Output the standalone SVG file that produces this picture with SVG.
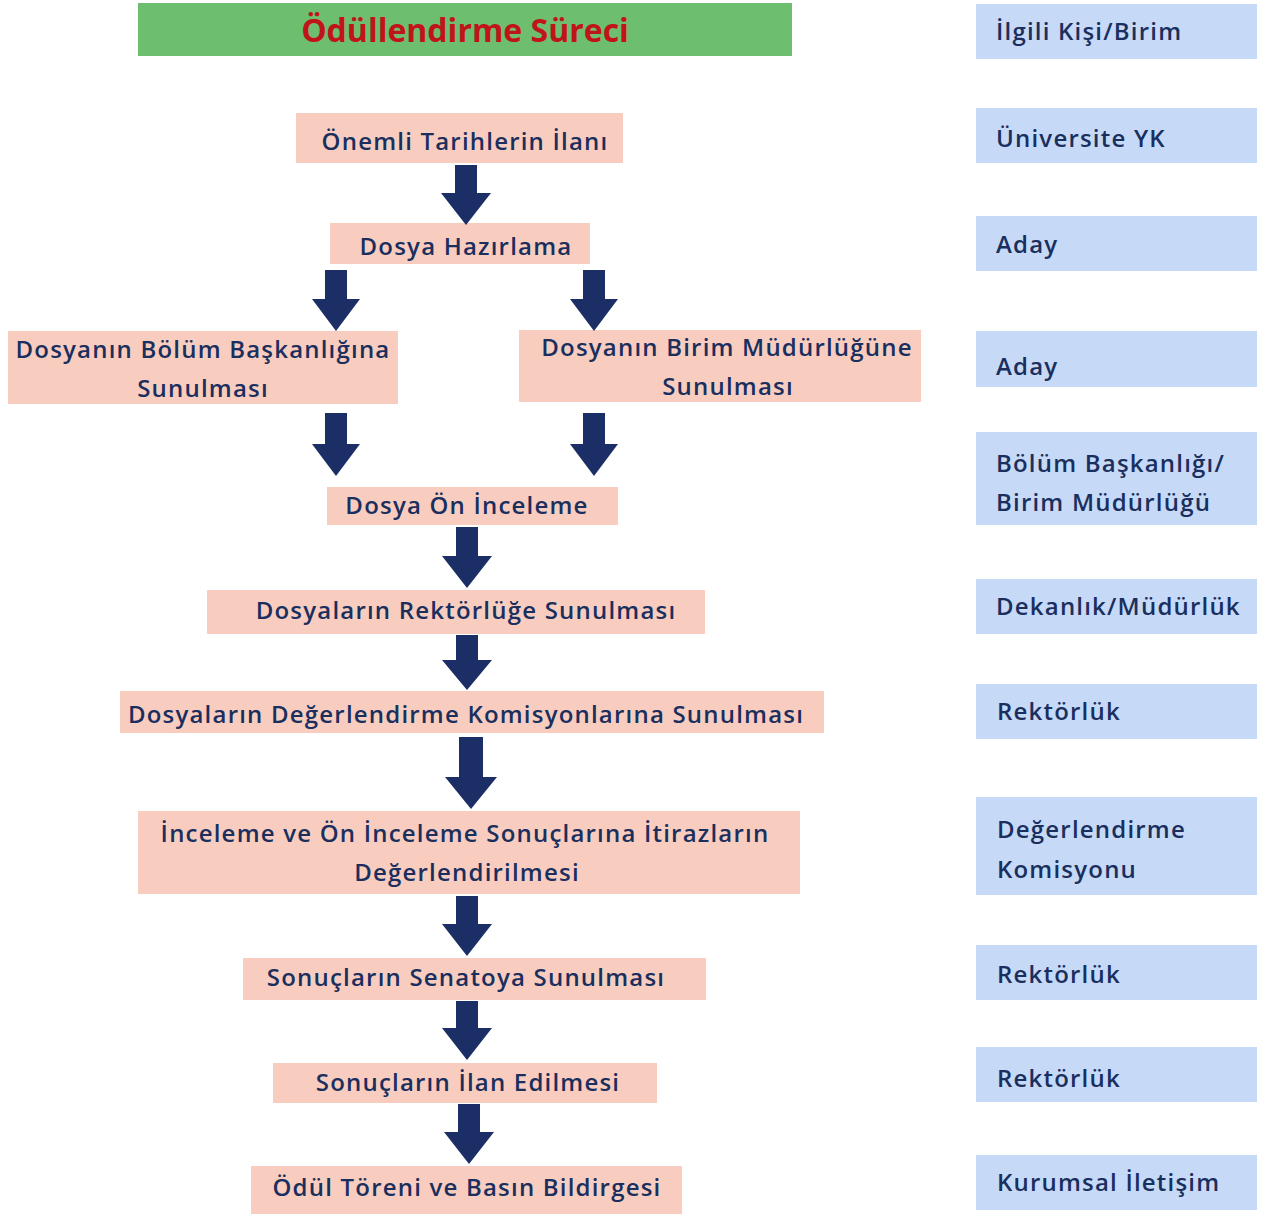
<svg xmlns="http://www.w3.org/2000/svg" width="1267" height="1214" viewBox="0 0 1267 1214">
<style>
.step rect{fill:#F8CDBF}
.role rect{fill:#C6DAF7}
text{font-family:"Open Sans","Liberation Sans",sans-serif;font-weight:600;fill:#1A2F5E;font-size:24px;letter-spacing:1.2px}
.step text{text-anchor:middle}
.arrow{fill:#1B2F66}
.title text{fill:#C0141A;font-size:32px;font-weight:700;text-anchor:middle;letter-spacing:0}
</style>
<rect width="1267" height="1214" fill="#ffffff"/>
<g id="title" class="title">
<rect x="138" y="3" width="654" height="53" fill="#6DBE6E"/>
<text x="465" y="42">Ödüllendirme Süreci</text>
</g>
<g id="s1" class="step"><rect x="296" y="113" width="327" height="50"/><text x="465" y="150">Önemli Tarihlerin İlanı</text></g>
<g id="s2" class="step"><rect x="330" y="223" width="260" height="41"/><text x="466" y="255">Dosya Hazırlama</text></g>
<g id="s3a" class="step"><rect x="8" y="331" width="390" height="73"/><text x="203" y="358">Dosyanın Bölüm Başkanlığına</text><text x="203" y="397">Sunulması</text></g>
<g id="s3b" class="step"><rect x="519" y="330" width="402" height="72"/><text x="727" y="356">Dosyanın Birim Müdürlüğüne</text><text x="728" y="395">Sunulması</text></g>
<g id="s4" class="step"><rect x="327" y="487" width="291" height="38"/><text x="467" y="514">Dosya Ön İnceleme</text></g>
<g id="s5" class="step"><rect x="207" y="590" width="498" height="44"/><text x="466" y="619">Dosyaların Rektörlüğe Sunulması</text></g>
<g id="s6" class="step"><rect x="120" y="691" width="704" height="42"/><text x="466" y="723">Dosyaların Değerlendirme Komisyonlarına Sunulması</text></g>
<g id="s7" class="step"><rect x="138" y="811" width="662" height="83"/><text x="465" y="842">İnceleme ve Ön İnceleme Sonuçlarına İtirazların</text><text x="467" y="881">Değerlendirilmesi</text></g>
<g id="s8" class="step"><rect x="243" y="958" width="463" height="42"/><text x="466" y="986">Sonuçların Senatoya Sunulması</text></g>
<g id="s9" class="step"><rect x="273" y="1063" width="384" height="40"/><text x="468" y="1091">Sonuçların İlan Edilmesi</text></g>
<g id="s10" class="step"><rect x="251" y="1166" width="431" height="48"/><text x="467" y="1196">Ödül Töreni ve Basın Bildirgesi</text></g>
<g id="r0" class="role"><rect x="976" y="4" width="281" height="55"/><text x="996" y="40">İlgili Kişi/Birim</text></g>
<g id="r1" class="role"><rect x="976" y="108" width="281" height="55"/><text x="996" y="147">Üniversite YK</text></g>
<g id="r2" class="role"><rect x="976" y="216" width="281" height="55"/><text x="996" y="253">Aday</text></g>
<g id="r3" class="role"><rect x="976" y="331" width="281" height="56"/><text x="996" y="375">Aday</text></g>
<g id="r4" class="role"><rect x="976" y="432" width="281" height="93"/><text x="996" y="472">Bölüm Başkanlığı/</text><text x="996" y="511">Birim Müdürlüğü</text></g>
<g id="r5" class="role"><rect x="976" y="579" width="281" height="55"/><text x="996" y="615">Dekanlık/Müdürlük</text></g>
<g id="r6" class="role"><rect x="976" y="684" width="281" height="55"/><text x="997" y="720">Rektörlük</text></g>
<g id="r7" class="role"><rect x="976" y="797" width="281" height="98"/><text x="997" y="838">Değerlendirme</text><text x="997" y="878">Komisyonu</text></g>
<g id="r8" class="role"><rect x="976" y="945" width="281" height="55"/><text x="997" y="983">Rektörlük</text></g>
<g id="r9" class="role"><rect x="976" y="1047" width="281" height="55"/><text x="997" y="1087">Rektörlük</text></g>
<g id="r10" class="role"><rect x="976" y="1155" width="281" height="55"/><text x="997" y="1191">Kurumsal İletişim</text></g>
<g id="connectors" class="arrow">
<path d="M455 165H477V193H491L466 225L441 193H455Z"/>
<path d="M325 270H347V299H360L336 331L312 299H325Z"/>
<path d="M583 270H605V299H618L594 331L570 299H583Z"/>
<path d="M325 413H347V444H360L336 476L312 444H325Z"/>
<path d="M583 413H605V444H618L594 476L570 444H583Z"/>
<path d="M456 527H478V556H492L467 588L442 556H456Z"/>
<path d="M456 635H478V660H492L467 690L442 660H456Z"/>
<path d="M459 737H483V777H497L471 809L445 777H459Z"/>
<path d="M456 896H478V924H492L467 956L442 924H456Z"/>
<path d="M456 1001H478V1028H492L467 1060L442 1028H456Z"/>
<path d="M458 1104H480V1132H494L469 1164L444 1132H458Z"/>
</g>
</svg>
